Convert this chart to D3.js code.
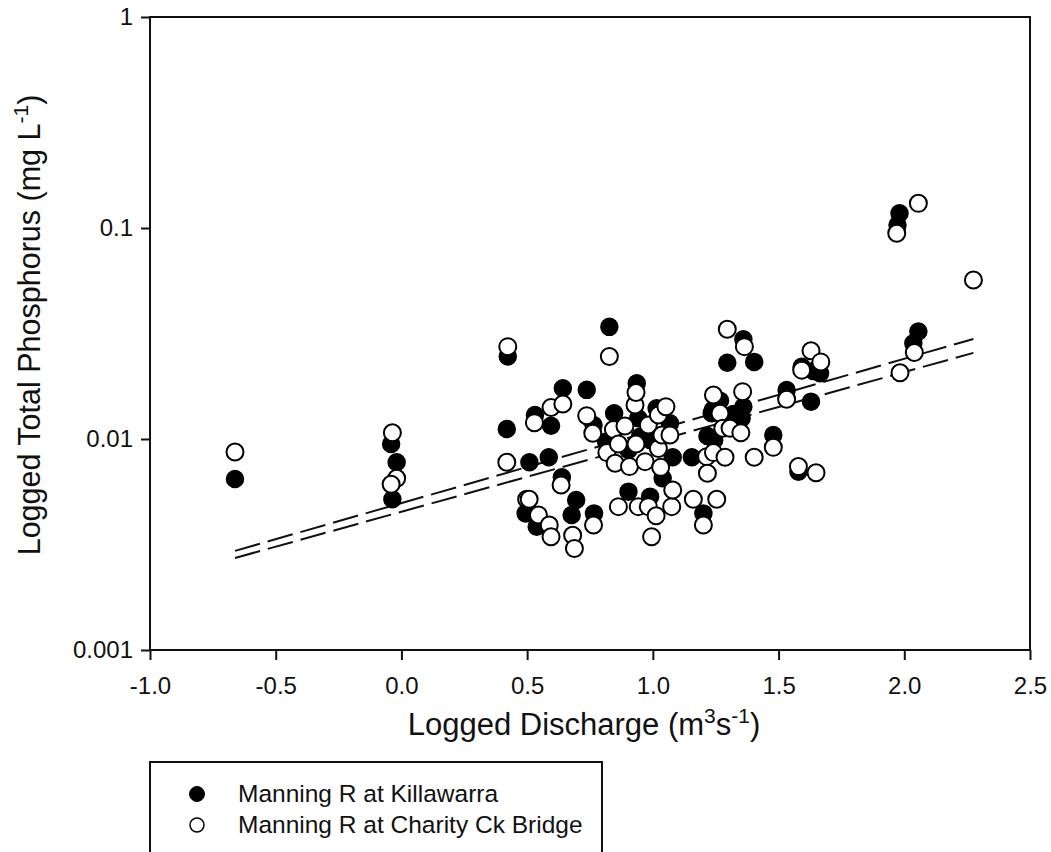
<!DOCTYPE html>
<html>
<head>
<meta charset="utf-8">
<script src="https://cdn.jsdelivr.net/npm/d3@7"></script>
<style>
  html, body { margin: 0; padding: 0; background: #fff; }
  svg { display: block; font-family: "Liberation Sans", Arial, sans-serif; }
</style>
</head>
<body>
<svg id="chart" width="1051" height="852"></svg>
<script>
// Manning R at Killawarra: [logged discharge, total phosphorus (mg/L)]
const killawarra = [
  [-0.662, 0.00646], [-0.041, 0.00947], [-0.019, 0.00776], [-0.036, 0.00518],
  [0.423, 0.0246], [0.419, 0.01115], [0.509, 0.00776], [0.494, 0.00444],
  [0.538, 0.00384], [0.531, 0.0130], [0.586, 0.00819], [0.595, 0.01156],
  [0.642, 0.0174], [0.638, 0.00658], [0.677, 0.00436], [0.695, 0.00514],
  [0.737, 0.0171], [0.764, 0.01165], [0.766, 0.00444], [0.814, 0.0097],
  [0.827, 0.0340], [0.846, 0.01324], [0.903, 0.00887], [0.903, 0.00563],
  [0.936, 0.01836], [0.942, 0.01253], [0.949, 0.01026], [0.989, 0.0099],
  [0.989, 0.00533], [1.015, 0.01397], [1.039, 0.00651], [1.068, 0.01186],
  [1.079, 0.00819], [1.155, 0.00819], [1.201, 0.00444], [1.217, 0.01033],
  [1.234, 0.01324], [1.238, 0.01372], [1.244, 0.00989], [1.267, 0.0152],
  [1.296, 0.0230], [1.320, 0.01313], [1.353, 0.01253], [1.360, 0.0297],
  [1.360, 0.01423], [1.403, 0.0232], [1.479, 0.01045], [1.532, 0.01706],
  [1.579, 0.0070], [1.592, 0.0220], [1.629, 0.01503], [1.638, 0.0210],
  [1.665, 0.0205], [1.973, 0.1033], [1.981, 0.1174], [2.036, 0.0284],
  [2.056, 0.0323]
];

// Manning R at Charity Ck Bridge: [logged discharge, total phosphorus (mg/L)]
const charityCk = [
  [-0.662, 0.00868], [-0.036, 0.0107], [-0.019, 0.00651], [-0.041, 0.0061],
  [0.423, 0.0274], [0.419, 0.00776], [0.498, 0.00518], [0.508, 0.00518],
  [0.529, 0.01195], [0.545, 0.00436], [0.588, 0.00391], [0.595, 0.0141],
  [0.595, 0.00344], [0.635, 0.00605], [0.642, 0.01466], [0.681, 0.0035],
  [0.688, 0.00303], [0.737, 0.0129], [0.761, 0.01064], [0.764, 0.00391],
  [0.817, 0.00862], [0.827, 0.0246], [0.843, 0.0111], [0.850, 0.00767],
  [0.863, 0.00947], [0.863, 0.00478], [0.889, 0.01153], [0.907, 0.0074],
  [0.929, 0.01449], [0.933, 0.0166], [0.933, 0.00947], [0.942, 0.00478],
  [0.969, 0.00781], [0.982, 0.01165], [0.982, 0.00478], [0.995, 0.00344],
  [1.013, 0.00433], [1.022, 0.0130], [1.022, 0.00902], [1.031, 0.00734],
  [1.036, 0.01045], [1.052, 0.01423], [1.068, 0.01045], [1.075, 0.00478],
  [1.079, 0.00573], [1.161, 0.00518], [1.201, 0.00391], [1.214, 0.00825],
  [1.217, 0.00688], [1.241, 0.01617], [1.241, 0.00862], [1.254, 0.00518],
  [1.267, 0.01324], [1.278, 0.01124], [1.287, 0.00819], [1.296, 0.0331],
  [1.307, 0.01124], [1.350, 0.01071], [1.357, 0.01676], [1.364, 0.0274],
  [1.403, 0.00819], [1.479, 0.00913], [1.532, 0.01542], [1.579, 0.0074],
  [1.592, 0.0212], [1.629, 0.0262], [1.649, 0.00692], [1.668, 0.0232],
  [1.970, 0.0944], [1.983, 0.0206], [2.040, 0.0257], [2.056, 0.1309],
  [2.275, 0.0567]
];

// Log-linear regression fits, given by their end points
const fitX = [-0.662, 2.275];
const fitUpper = [0.00295, 0.0298];
const fitLower = [0.00273, 0.0256];

// Axis ticks
const xTicks = [-1.0, -0.5, 0.0, 0.5, 1.0, 1.5, 2.0, 2.5];
const yTicks = [0.001, 0.01, 0.1, 1];
const yTickLabels = ["0.001", "0.01", "0.1", "1"];

const legendLabels = ["Manning R at Killawarra", "Manning R at Charity Ck Bridge"];

const svg = d3.select("#chart");
const plotLeft = 150, plotRight = 1030, plotTop = 17, plotBottom = 650;

const x = d3.scaleLinear().domain([-1.0, 2.5]).range([plotLeft, plotRight]);
const y = d3.scaleLog().domain([0.001, 1]).range([plotBottom, plotTop]);

// Frame
svg.append("rect")
  .attr("x", plotLeft).attr("y", plotTop)
  .attr("width", plotRight - plotLeft).attr("height", plotBottom - plotTop)
  .attr("fill", "none").attr("stroke", "#111").attr("stroke-width", 2);

// X axis
const xAxis = svg.append("g")
  .attr("transform", `translate(0,${plotBottom})`)
  .call(d3.axisBottom(x).tickValues(xTicks)
    .tickSizeInner(10).tickSizeOuter(0).tickPadding(17));
xAxis.select(".domain").remove();
xAxis.selectAll(".tick line").attr("stroke", "#111").attr("stroke-width", 2);
xAxis.selectAll(".tick text")
  .attr("font-size", 24).attr("fill", "#111")
  .attr("font-family", "Liberation Sans, Arial, sans-serif")
  .text(d => d3.format(".1f")(d).replace("\u2212", "-"));

// Y axis
const yAxis = svg.append("g")
  .attr("transform", `translate(${plotLeft},0)`)
  .call(d3.axisLeft(y).tickValues(yTicks)
    .tickFormat((d, i) => yTickLabels[i])
    .tickSizeInner(9).tickSizeOuter(0).tickPadding(8));
yAxis.select(".domain").remove();
yAxis.selectAll(".tick line").attr("stroke", "#111").attr("stroke-width", 2);
yAxis.selectAll(".tick text")
  .attr("font-size", 24).attr("fill", "#111")
  .attr("font-family", "Liberation Sans, Arial, sans-serif");

// Regression lines
const line = d3.line().x(d => x(d[0])).y(d => y(d[1]));
[fitUpper, fitLower].forEach(fit => {
  svg.append("path")
    .attr("d", line(fitX.map((v, i) => [v, fit[i]])))
    .attr("fill", "none").attr("stroke", "#111")
    .attr("stroke-width", 2).attr("stroke-dasharray", "26,8");
});

// Points
const r = 8.5;
svg.append("g").selectAll("circle").data(killawarra).join("circle")
  .attr("cx", d => x(d[0])).attr("cy", d => y(d[1])).attr("r", r)
  .attr("fill", "#000").attr("stroke", "#000").attr("stroke-width", 1.5);
svg.append("g").selectAll("circle").data(charityCk).join("circle")
  .attr("cx", d => x(d[0])).attr("cy", d => y(d[1])).attr("r", r)
  .attr("fill", "#fff").attr("stroke", "#000").attr("stroke-width", 2);

// Axis titles
const xt = svg.append("text")
  .attr("x", 584).attr("y", 735).attr("text-anchor", "middle")
  .attr("font-size", 31).attr("fill", "#111");
xt.append("tspan").text("Logged Discharge (m");
xt.append("tspan").attr("dy", -12).attr("font-size", 21).text("3");
xt.append("tspan").attr("dy", 12).text("s");
xt.append("tspan").attr("dy", -12).attr("font-size", 21).text("-1");
xt.append("tspan").attr("dy", 12).text(")");

const yt = svg.append("text")
  .attr("transform", "translate(40,325) rotate(-90)")
  .attr("text-anchor", "middle")
  .attr("font-size", 30.5).attr("fill", "#111");
yt.append("tspan").text("Logged Total Phosphorus (mg L");
yt.append("tspan").attr("dy", -12).attr("font-size", 21).text("-1");
yt.append("tspan").attr("dy", 12).text(")");

// Legend
const lg = svg.append("g");
lg.append("rect")
  .attr("x", 150).attr("y", 762).attr("width", 452).attr("height", 110)
  .attr("fill", "#fff").attr("stroke", "#111").attr("stroke-width", 2);
lg.append("circle").attr("cx", 197).attr("cy", 794).attr("r", 7.5)
  .attr("fill", "#000").attr("stroke", "#000");
lg.append("circle").attr("cx", 197).attr("cy", 825).attr("r", 7)
  .attr("fill", "#fff").attr("stroke", "#000").attr("stroke-width", 1.5);
legendLabels.forEach((t, i) => {
  lg.append("text").attr("x", 238).attr("y", 802 + i * 31)
    .attr("font-size", 24.5).attr("fill", "#111").text(t);
});
</script>
</body>
</html>
